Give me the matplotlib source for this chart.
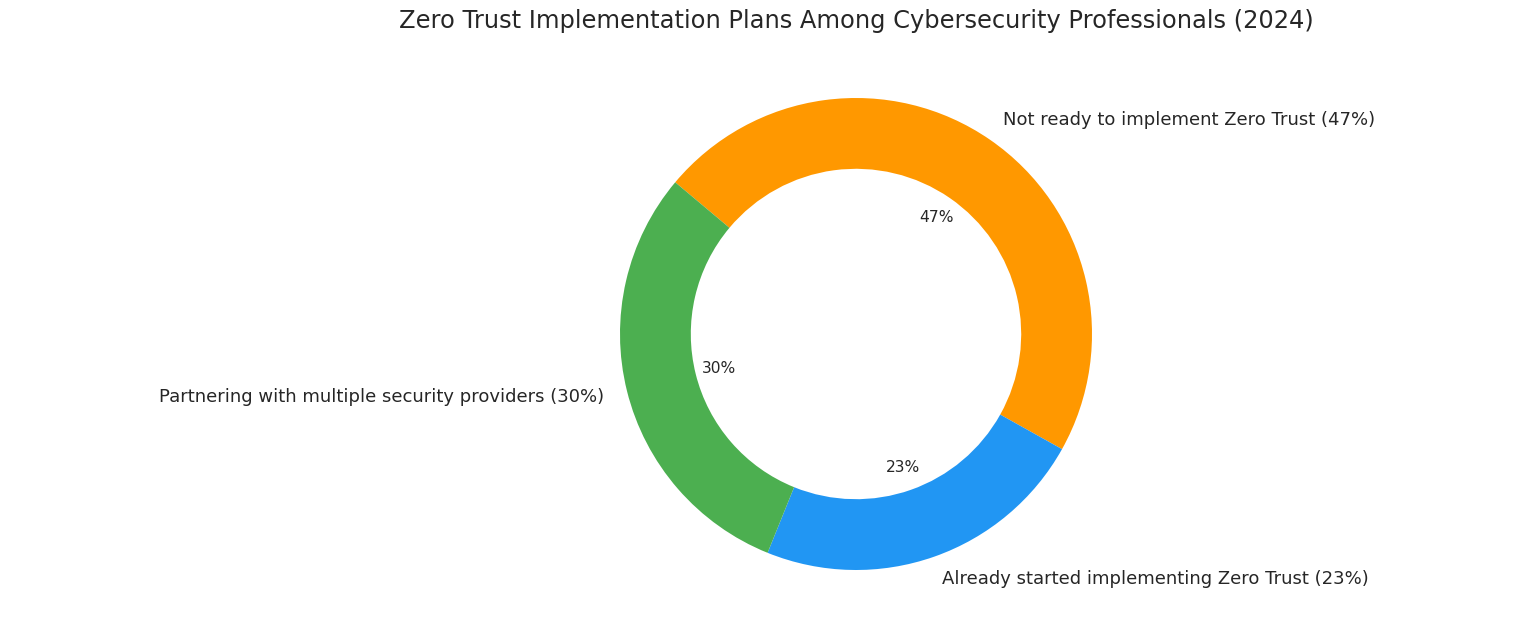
"""
Donut chart: Zero Trust implementation plans among cybersecurity professionals (2024).

Output:
- out.png
"""

import matplotlib.pyplot as plt


LABELS = [
    "Not ready to implement Zero Trust (47%)",
    "Already started implementing Zero Trust (23%)",
    "Partnering with multiple security providers (30%)",
]
SHARES = [47, 23, 30]
COLORS = ["#FF9800", "#2196F3", "#4CAF50"]

TITLE = "Zero Trust Implementation Plans Among Cybersecurity Professionals (2024)"
TEXT_COLOR = "#262626"


def main():
    fig = plt.figure(figsize=(15.36, 6.4), dpi=100)

    # place the donut so that centre and radius match the reference layout
    W, H = 1536, 640
    cx, cy, r = 856, 306, 236
    half_w, half_h = 3.0, 1.2
    ax = fig.add_axes([
        (cx - half_w * r) / W,
        (cy - half_h * r) / H,
        2 * half_w * r / W,
        2 * half_h * r / H,
    ])

    wedges, texts, autotexts = ax.pie(
        SHARES,
        labels=LABELS,
        colors=COLORS,
        autopct="%1.0f%%",
        startangle=140,
        counterclock=False,
        pctdistance=0.6,
        labeldistance=1.1,
        wedgeprops=dict(width=0.3, edgecolor="none"),
        textprops=dict(color=TEXT_COLOR, fontsize=13),
    )
    for t in autotexts:
        t.set_fontsize(11.2)
        t.set_color(TEXT_COLOR)

    ax.set_xlim(-half_w, half_w)
    ax.set_ylim(-half_h, half_h)
    ax.axis("off")

    fig.text(cx / W, 1 - 21 / H, TITLE, ha="center", va="center",
             fontsize=17.4, color=TEXT_COLOR)

    fig.savefig("out.png", dpi=100)
    plt.close(fig)


if __name__ == "__main__":
    main()
